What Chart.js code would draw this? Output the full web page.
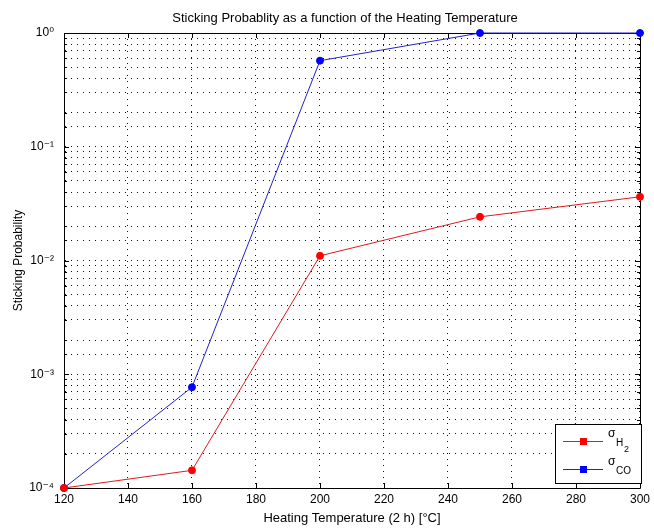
<!DOCTYPE html>
<html>
<head>
<meta charset="utf-8">
<script src="https://cdn.jsdelivr.net/npm/chart.js@4.4.1/dist/chart.umd.min.js"></script>
<style>
  html, body { margin: 0; padding: 0; background: #ffffff; }
  #wrap { width: 654px; height: 530px; }
</style>
</head>
<body>
<div id="wrap"><canvas id="chart" width="654" height="530"></canvas></div>
<script>
// Heating temperatures (°C, 2 h anneal)
const temperatures = [120, 160, 200, 250, 300];
// Sticking probability for hydrogen
const stickingH2 = [1.0e-4, 1.43e-4, 0.0110, 0.0242, 0.0363];
// Sticking probability for carbon monoxide
const stickingCO = [1.0e-4, 7.7e-4, 0.571, 1.0, 1.0];

// Axis ticks
const xTickValues = [120, 140, 160, 180, 200, 220, 240, 260, 280, 300];
const yDecades = [1e-4, 1e-3, 1e-2, 1e-1, 1];
const yDecadeLabels = ['10⁻⁴', '10⁻³', '10⁻²', '10⁻¹', '10⁰'];

const chartTitle = 'Sticking Probablity as a function of the Heating Temperature';

const FONT = '"Liberation Sans", Arial, "DejaVu Sans", sans-serif';
const RED = '#ff0000';
const BLUE = '#0000ff';
const RED_LINE = '#dd1c1c';
const BLUE_LINE = '#2222c8';

function toPoints(xs, ys) {
  return xs.map((x, i) => ({ x: x, y: ys[i] }));
}

function decadeLabel(value) {
  const e = Math.log10(value);
  if (Math.abs(e - Math.round(e)) > 1e-9) return '';
  const idx = yDecades.findIndex(d => Math.abs(Math.log10(d) - e) < 1e-9);
  return idx >= 0 ? yDecadeLabels[idx] : '';
}

// Title line above the axes
const headline = {
  id: 'headline',
  afterDraw(chart) {
    const { ctx } = chart;
    ctx.save();
    ctx.fillStyle = '#000';
    ctx.font = '13px ' + FONT;
    ctx.textAlign = 'center';
    ctx.textBaseline = 'middle';
    ctx.fillText(chartTitle, 345, 18);
    ctx.restore();
  }
};

// Box around the axes with inward tick marks on all four sides
const axesFrame = {
  id: 'axesFrame',
  beforeDatasetsDraw(chart) {
    const { ctx, chartArea: a, scales } = chart;
    ctx.save();
    ctx.strokeStyle = '#000';
    ctx.lineWidth = 1;
    ctx.setLineDash([]);
    ctx.beginPath();
    ctx.rect(Math.round(a.left) + 0.5, Math.round(a.top) + 0.5,
             Math.round(a.right - a.left), Math.round(a.bottom - a.top));
    ctx.stroke();
    ctx.beginPath();
    xTickValues.forEach(v => {
      const px = Math.round(scales.x.getPixelForValue(v)) + 0.5;
      ctx.moveTo(px, a.bottom); ctx.lineTo(px, a.bottom - 5);
      ctx.moveTo(px, a.top); ctx.lineTo(px, a.top + 5);
    });
    scales.y.ticks.forEach(t => {
      const e = Math.log10(t.value);
      const major = Math.abs(e - Math.round(e)) < 1e-9;
      const len = major ? 5 : 3;
      const py = Math.round(scales.y.getPixelForValue(t.value)) + 0.5;
      ctx.moveTo(a.left, py); ctx.lineTo(a.left + len, py);
      ctx.moveTo(a.right, py); ctx.lineTo(a.right - len, py);
    });
    ctx.stroke();
    ctx.restore();
  }
};

// Boxed legend in the lower right corner of the axes
const boxLegend = {
  id: 'boxLegend',
  afterDraw(chart) {
    const { ctx } = chart;
    const bx = 555.5, by = 424.5, bw = 86, bh = 59;
    ctx.save();
    ctx.fillStyle = '#fff';
    ctx.fillRect(bx, by, bw, bh);
    ctx.strokeStyle = '#000';
    ctx.lineWidth = 1;
    ctx.strokeRect(bx, by, bw, bh);

    const entries = [
      { line: RED_LINE, mark: RED, y: 441, main: 'σ', sub: 'H', subsub: '2' },
      { line: BLUE_LINE, mark: BLUE, y: 469, main: 'σ', sub: 'CO', subsub: '' }
    ];
    entries.forEach(en => {
      ctx.strokeStyle = en.line;
      ctx.lineWidth = 1;
      ctx.beginPath();
      ctx.moveTo(563, en.y + 0.5); ctx.lineTo(603, en.y + 0.5);
      ctx.stroke();
      ctx.fillStyle = en.mark;
      ctx.fillRect(580, en.y - 3, 7, 7);

      ctx.fillStyle = '#000';
      ctx.textBaseline = 'alphabetic';
      ctx.textAlign = 'left';
      ctx.font = '12px ' + FONT;
      ctx.fillText(en.main, 608, en.y - 4);
      ctx.font = '10px ' + FONT;
      ctx.fillText(en.sub, 616, en.y + 5);
      if (en.subsub) {
        ctx.font = '9px ' + FONT;
        ctx.fillText(en.subsub, 624, en.y + 11);
      }
    });
    ctx.restore();
  }
};

const ctx = document.getElementById('chart').getContext('2d');
new Chart(ctx, {
  type: 'line',
  data: {
    datasets: [
      {
        label: 'σH2',
        data: toPoints(temperatures, stickingH2),
        borderColor: RED_LINE,
        backgroundColor: RED,
        borderWidth: 1,
        pointStyle: 'circle',
        pointRadius: 3.5,
        pointBorderWidth: 1,
        pointBorderColor: RED,
        tension: 0,
        clip: false
      },
      {
        label: 'σCO',
        data: toPoints(temperatures, stickingCO),
        borderColor: BLUE_LINE,
        backgroundColor: BLUE,
        borderWidth: 1,
        pointStyle: 'circle',
        pointRadius: 3.5,
        pointBorderWidth: 1,
        pointBorderColor: BLUE,
        tension: 0,
        clip: false
      }
    ]
  },
  options: {
    responsive: false,
    animation: false,
    devicePixelRatio: 1,
    layout: { padding: { top: 33, right: 10, left: 0, bottom: 0 } },
    plugins: {
      legend: { display: false },
      tooltip: { enabled: false },
      title: { display: false }
    },
    scales: {
      x: {
        type: 'linear',
        min: 120,
        max: 300,
        afterBuildTicks(scale) {
          scale.ticks = xTickValues.map(v => ({ value: v }));
        },
        afterFit(scale) { scale.height = 42; },
        grid: {
          color: '#111',
          lineWidth: 1,
          drawTicks: false
        },
        border: { display: true, color: '#000', width: 1, dash: [1, 5] },
        ticks: {
          color: '#000',
          padding: 4,
          maxRotation: 0,
          autoSkip: false,
          font: { family: FONT, size: 12 }
        },
        title: {
          display: true,
          text: 'Heating Temperature (2 h) [°C]',
          color: '#000',
          font: { family: FONT, size: 13, lineHeight: 1.2 },
          padding: { top: 0, bottom: 4 }
        }
      },
      y: {
        type: 'logarithmic',
        min: 1e-4,
        max: 1,
        afterFit(scale) { scale.width = 64; },
        grid: {
          color: '#111',
          lineWidth: 1,
          drawTicks: false
        },
        border: { display: true, color: '#000', width: 1, dash: [1, 5] },
        ticks: {
          color: '#000',
          padding: 10,
          autoSkip: false,
          font: { family: FONT, size: 12 },
          callback: (value) => decadeLabel(value)
        },
        title: {
          display: true,
          text: 'Sticking Probability',
          color: '#000',
          font: { family: FONT, size: 12, lineHeight: 1.2 },
          padding: { top: 11, bottom: 0 }
        }
      }
    }
  },
  plugins: [axesFrame, boxLegend, headline]
});
</script>
</body>
</html>
